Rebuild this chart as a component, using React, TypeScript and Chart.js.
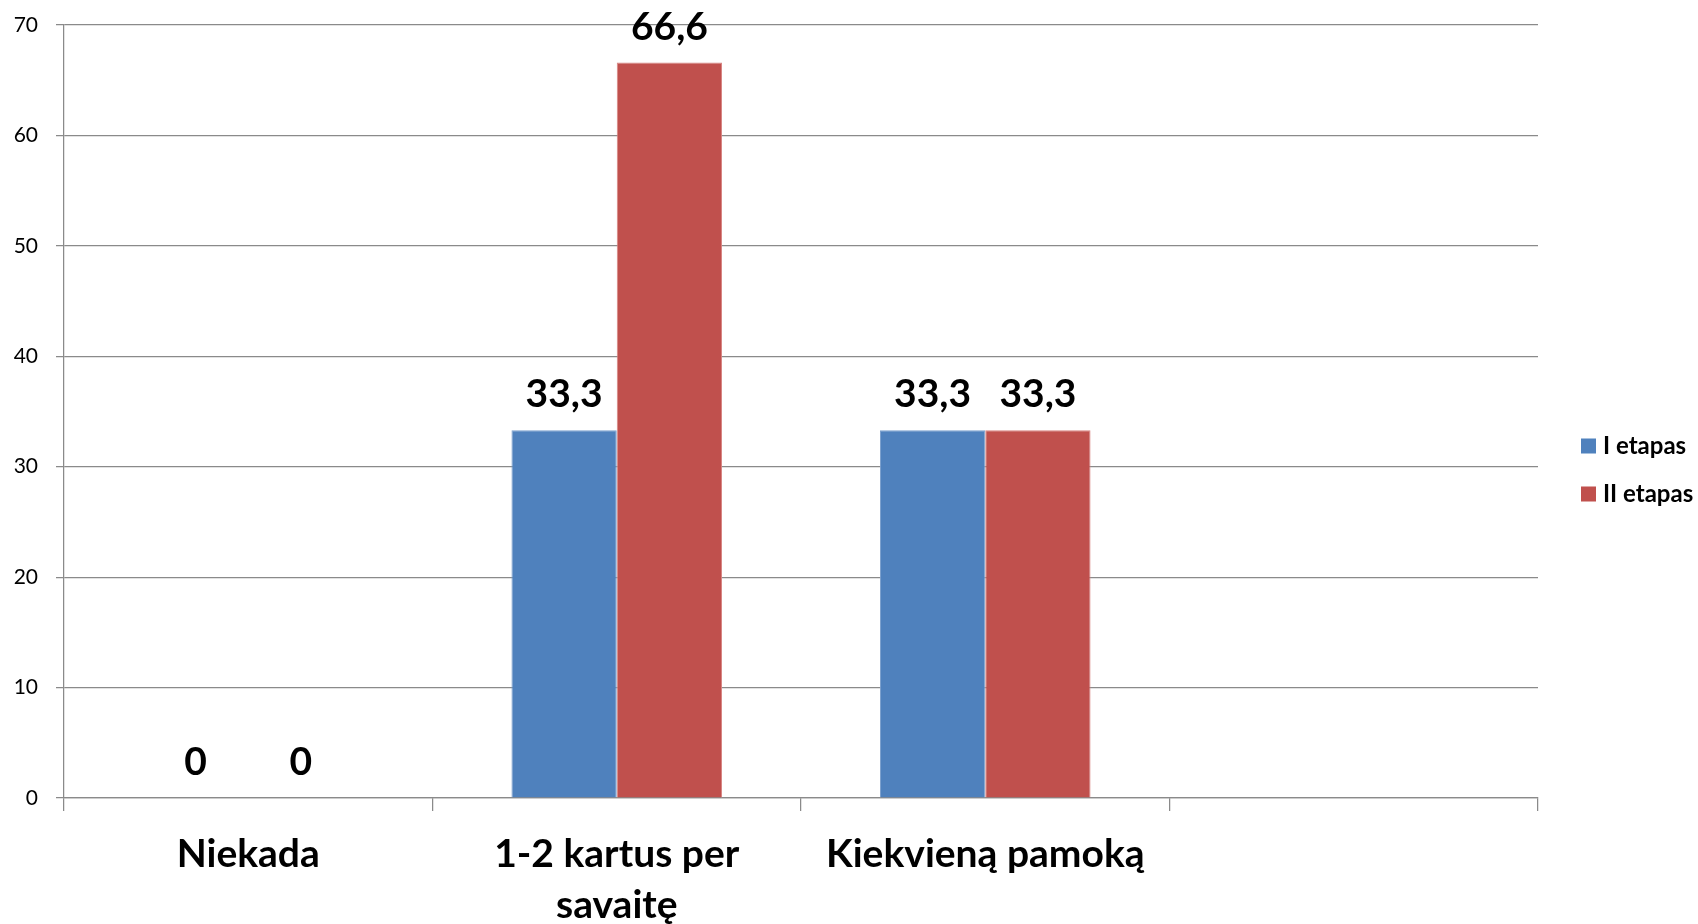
import React, { useEffect, useRef } from "react";
import { Chart, registerables } from "chart.js";

Chart.register(...registerables);

const categories: (string | string[])[] = [
  "Niekada",
  ["1-2 kartus per", "savaitę"],
  "Kiekvieną pamoką",
  "",
];
const seriesNames = ["I etapas", "II etapas"];
const etapas1: (number | null)[] = [0, 33.3, 33.3, null];
const etapas2: (number | null)[] = [0, 66.6, 33.3, null];
const yTicks = [0, 10, 20, 30, 40, 50, 60, 70];

const BLUE = "#4F81BD";
const RED = "#C0504D";
const BLUE_EDGE = "#7A9FCD";
const RED_EDGE = "#D88482";
const GRID = "#8a8a8a";
const FONT = "Lato, 'Open Sans', sans-serif";

const fmt = (v: number) => String(v).replace(".", ",");

const dataLabels = {
  id: "dataLabels",
  afterDatasetsDraw(chart: any) {
    const ctx = chart.ctx;
    ctx.save();
    ctx.font = `bold 39px ${FONT}`;
    ctx.fillStyle = "#000";
    ctx.textAlign = "center";
    ctx.textBaseline = "alphabetic";
    chart.data.datasets.forEach((ds: any, di: number) => {
      const meta = chart.getDatasetMeta(di);
      meta.data.forEach((el: any, i: number) => {
        const v = ds.data[i];
        if (v === null || v === undefined) return;
        ctx.fillText(fmt(v), el.x, el.y - 23);
      });
    });
    ctx.restore();
  },
};

const sideLegend = {
  id: "sideLegend",
  afterDraw(chart: any) {
    const ctx = chart.ctx;
    const a = chart.chartArea;
    const x0 = a.right + 43;
    const yFirst = (a.top + a.bottom) / 2 + 34.5;
    ctx.save();
    ctx.font = `bold 24px ${FONT}`;
    ctx.textBaseline = "middle";
    ctx.textAlign = "left";
    chart.data.datasets.forEach((ds: any, i: number) => {
      const cy = yFirst + i * 48;
      ctx.fillStyle = ds.backgroundColor;
      ctx.fillRect(x0, cy - 7.5, 15, 15);
      ctx.fillStyle = "#000";
      ctx.fillText(ds.label, x0 + 22, cy);
    });
    ctx.restore();
  },
};

export default function App() {
  const ref = useRef<HTMLCanvasElement | null>(null);
  useEffect(() => {
    if (!ref.current) return;
    const chart = new Chart(ref.current, {
      type: "bar",
      data: {
        labels: categories,
        datasets: [
          {
            label: seriesNames[0],
            data: etapas1,
            backgroundColor: BLUE,
            borderColor: BLUE_EDGE,
            borderWidth: 1,
          },
          {
            label: seriesNames[1],
            data: etapas2,
            backgroundColor: RED,
            borderColor: RED_EDGE,
            borderWidth: 1,
          },
        ],
      },
      options: {
        responsive: false,
        animation: false,
        devicePixelRatio: 1,
        layout: { padding: { left: 14, right: 160, top: 25, bottom: 0 } },
        datasets: {
          bar: { categoryPercentage: 2 / 3.5, barPercentage: 1 },
        },
        plugins: {
          legend: { display: false },
          tooltip: { enabled: false },
        },
        scales: {
          x: {
            offset: true,
            afterFit: (scale: any) => {
              scale.height = 126;
            },
            grid: {
              display: true,
              drawOnChartArea: false,
              drawTicks: true,
              tickLength: 13,
              color: GRID,
              lineWidth: 1.25,
              offset: true,
            },
            border: { display: true, color: GRID, width: 1.25 },
            ticks: {
              color: "#000",
              padding: 17,
              maxRotation: 0,
              autoSkip: false,
              font: { family: FONT, size: 39, weight: "bold", lineHeight: 1.33 },
            },
          },
          y: {
            min: 0,
            max: 70,
            afterFit: (scale: any) => {
              scale.width = 50;
              scale.paddingTop = 0;
              scale.paddingBottom = 0;
            },
            afterBuildTicks: (scale: any) => {
              scale.ticks = yTicks.map((v) => ({ value: v }));
            },
            grid: {
              color: GRID,
              lineWidth: 1.25,
              drawTicks: true,
              tickLength: 8,
            },
            border: { display: true, color: GRID, width: 1.25 },
            ticks: {
              color: "#000",
              padding: 18,
              font: { family: FONT, size: 21 },
            },
          },
        },
      },
      plugins: [dataLabels, sideLegend],
    });
    return () => chart.destroy();
  }, []);

  return (
    <div
      style={{
        position: "fixed",
        left: 0,
        top: 0,
        width: 1698,
        height: 924,
        overflow: "hidden",
        background: "#fff",
      }}
    >
      <canvas ref={ref} width={1698} height={924} style={{ display: "block" }} />
    </div>
  );
}
